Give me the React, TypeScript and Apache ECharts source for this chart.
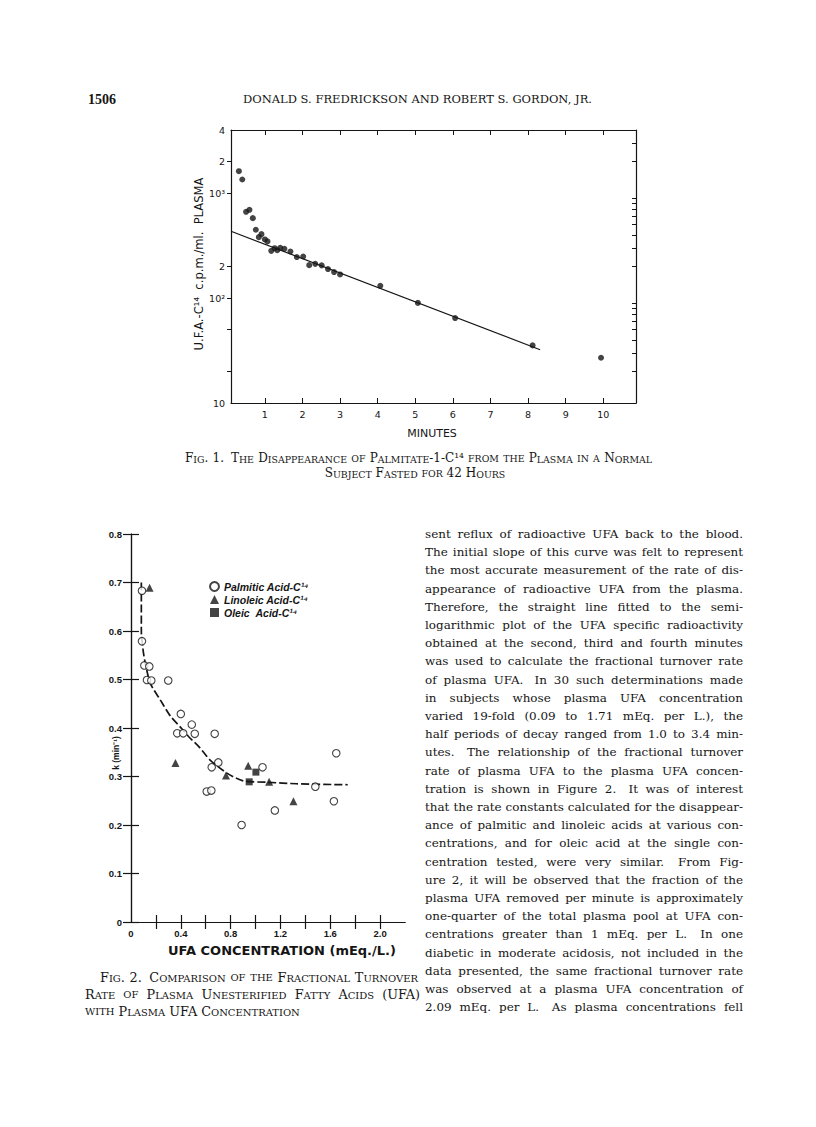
import React, { useEffect, useRef } from 'react';
import * as echarts from 'echarts';

const INK = '#151515';
const SERIF = 'Liberation Serif';
const SERIF2 = 'DejaVu Serif';
const SANS = 'DejaVu Sans';
const SANSB = 'Liberation Sans';

// ---------------- Fig. 1 data ----------------
const fig1Minutes = [0.31, 0.40, 0.50, 0.59, 0.68, 0.76, 0.84, 0.91, 1.00, 1.07, 1.17, 1.26, 1.33, 1.41, 1.52, 1.68, 1.85, 2.02, 2.18, 2.34, 2.51, 2.68, 2.84, 3.00, 4.07, 5.07, 6.06, 8.12, 9.94];
const fig1Cpm = [1620, 1350, 664, 694, 578, 448, 381, 407, 362, 347, 282, 299, 286, 301, 295, 278, 246, 249, 206, 212, 205, 189, 177, 168, 131, 90, 64.5, 35.4, 27];
const fig1FitMinutes = [0.1, 8.32];
const fig1FitCpm = [434, 32.2];
const fig1XTicks = [1, 2, 3, 4, 5, 6, 7, 8, 9, 10];
const fig1YLabelValues = [10, 100, 200, 1000, 2000, 4000];
const fig1YLabelTexts = ['10', '10²', '2', '10³', '2', '4'];
const fig1LeftTicks = [20, 50, 100, 200, 1000, 2000];
const fig1RightTicks = [20, 30, 40, 50, 60, 70, 80, 90, 200, 300, 400, 500, 600, 700, 800, 900, 2000, 3000];

// ---------------- Fig. 2 data ----------------
const palmiticConc = [0.088, 0.088, 0.107, 0.147, 0.128, 0.163, 0.299, 0.40, 0.371, 0.419, 0.488, 0.512, 0.672, 0.648, 0.701, 0.608, 0.645, 0.888, 1.056, 1.155, 1.48, 1.629, 1.648];
const palmiticK = [0.683, 0.579, 0.529, 0.527, 0.499, 0.498, 0.498, 0.429, 0.389, 0.389, 0.407, 0.388, 0.388, 0.319, 0.329, 0.269, 0.271, 0.200, 0.319, 0.230, 0.279, 0.249, 0.348];
const linoleicConc = [0.149, 0.357, 0.763, 0.941, 1.109, 1.304];
const linoleicK = [0.689, 0.328, 0.302, 0.322, 0.289, 0.249];
const oleicConc = [0.949, 1.003];
const oleicK = [0.289, 0.309];
const curveConc = [0.083, 0.083, 0.10, 0.12, 0.155, 0.235, 0.315, 0.41, 0.46, 0.55, 0.635, 0.77, 0.90, 1.1, 1.33, 1.74];
const curveK = [0.70, 0.60, 0.555, 0.527, 0.492, 0.458, 0.425, 0.398, 0.383, 0.36, 0.334, 0.307, 0.291, 0.288, 0.285, 0.283];
const fig2XTicks = [0.2, 0.4, 0.6, 0.8, 1.0, 1.2, 1.4, 1.6, 1.8, 2.0];
const fig2XLabels = [0, 0.4, 0.8, 1.2, 1.6, 2.0];
const legendNames = ['Palmitic Acid-C¹⁴', 'Linoleic Acid-C¹⁴', 'Oleic\u00a0\u00a0Acid-C¹⁴'];

// ---------------- Page text ----------------
const headerPage = '1506';
const headerAuthors = 'DONALD S. FREDRICKSON AND ROBERT S. GORDON, JR.';
const fig1Caption = [
  'Fig. 1.  The Disappearance of Palmitate-1-C¹⁴ from the Plasma in a Normal',
  'Subject Fasted for 42 Hours',
];
const fig2Caption = [
  'Fig. 2.  Comparison of the Fractional Turnover',
  'Rate of Plasma Unesterified Fatty Acids (UFA)',
  'with Plasma UFA Concentration',
];
const fig1YTitle = 'U.F.A.-C¹⁴\u00a0\u00a0c.p.m./ml.\u00a0\u00a0PLASMA';
const fig1XTitle = 'MINUTES';
const fig2YTitle = 'k (min⁻¹)';
const fig2XTitle = 'UFA CONCENTRATION (mEq./L.)';
const bodyLines = [
  'sent reflux of radioactive UFA back to the blood.',
  'The initial slope of this curve was felt to represent',
  'the most accurate measurement of the rate of dis-',
  'appearance of radioactive UFA from the plasma.',
  'Therefore, the straight line fitted to the semi-',
  'logarithmic plot of the UFA specific radioactivity',
  'obtained at the second, third and fourth minutes',
  'was used to calculate the fractional turnover rate',
  'of plasma UFA.  In 30 such determinations made',
  'in subjects whose plasma UFA concentration',
  'varied 19-fold (0.09 to 1.71 mEq. per L.), the',
  'half periods of decay ranged from 1.0 to 3.4 min-',
  'utes.  The relationship of the fractional turnover',
  'rate of plasma UFA to the plasma UFA concen-',
  'tration is shown in Figure 2.  It was of interest',
  'that the rate constants calculated for the disappear-',
  'ance of palmitic and linoleic acids at various con-',
  'centrations, and for oleic acid at the single con-',
  'centration tested, were very similar.  From Fig-',
  'ure 2, it will be observed that the fraction of the',
  'plasma UFA removed per minute is approximately',
  'one-quarter of the total plasma pool at UFA con-',
  'centrations greater than 1 mEq. per L.  In one',
  'diabetic in moderate acidosis, not included in the',
  'data presented, the same fractional turnover rate',
  'was observed at a plasma UFA concentration of',
  '2.09 mEq. per L.  As plasma concentrations fell',
];

// ---------------- text helpers ----------------
let _ctx: CanvasRenderingContext2D | null = null;
function tw(text: string, size: number, family: string, weight = 'normal', style = 'normal') {
  if (!_ctx) _ctx = document.createElement('canvas').getContext('2d');
  _ctx!.font = `${style} ${weight} ${size}px "${family}"`;
  return _ctx!.measureText(text).width;
}
type Word = { style: any; width: number };
type Maker = (w: string, size: number) => Word;
function plain(t: string, size: number, family: string, weight = 'normal', fstyle = 'normal'): Word {
  return {
    style: { text: t, fontSize: size, fontFamily: family, fontWeight: weight, fontStyle: fstyle, fill: INK },
    width: tw(t, size, family, weight, fstyle),
  };
}
const SC_RATIO = 0.78;
function smallCaps(t: string, big: number, family: string): Word {
  const small = big * SC_RATIO;
  const runs = t.match(/[a-z]+|[^a-z]+/g) || [];
  let width = 0;
  let text = '';
  for (const r of runs) {
    const low = r[0] >= 'a' && r[0] <= 'z';
    const s = low ? r.toUpperCase() : r;
    width += tw(s, low ? small : big, family);
    text += `{${low ? 's' : 'b'}|${s}}`;
  }
  return {
    style: {
      text,
      fill: INK,
      rich: {
        b: { fontSize: big, fontFamily: family, fill: INK, verticalAlign: 'bottom' },
        s: { fontSize: small, fontFamily: family, fill: INK, verticalAlign: 'bottom' },
      },
    },
    width,
  };
}
function tokens(line: string) {
  const parts = line.split(/( +)/).filter((p) => p !== '');
  const words: string[] = [];
  const weights: number[] = [];
  for (const p of parts) {
    if (p.trim() === '') {
      if (words.length) weights.push(p.length > 1 ? 1.6 : 1);
    } else {
      if (words.length > weights.length) weights.push(1);
      words.push(p);
    }
  }
  return { words, weights };
}
function natural(line: string, mk: Maker, size: number, spaceW: number) {
  const { words, weights } = tokens(line);
  return words.reduce((a, w) => a + mk(w, size).width, 0) + weights.reduce((a, b) => a + b, 0) * spaceW;
}

function buildGraphic() {
  const g: any[] = [];
  const put = (x: number, y: number, style: any, extra: any = {}) =>
    g.push({
      type: 'text',
      x,
      y,
      silent: true,
      style: { align: 'left', textAlign: 'left', verticalAlign: 'middle', textVerticalAlign: 'middle', ...style },
      ...extra,
    });
  const layLine = (line: string, mk: Maker, size: number, spaceW: number, x0: number, y: number, mode: string, x1 = 0) => {
    const { words, weights } = tokens(line);
    const ws = words.map((w) => mk(w, size));
    const total = ws.reduce((a, w) => a + w.width, 0);
    const wsum = weights.reduce((a, b) => a + b, 0);
    let gap = spaceW;
    if (mode === 'justify' && wsum > 0) gap = Math.max(spaceW * 0.5, (x1 - x0 - total) / wsum);
    const lineW = total + gap * wsum;
    let x = mode === 'center' ? x0 - lineW / 2 : x0;
    ws.forEach((w, i) => {
      put(x, y, w.style);
      x += w.width + (weights[i] || 0) * gap;
    });
  };

  // header
  put(88, 99, plain(headerPage, 14, SERIF, 'bold').style);
  const hMk: Maker = (w, s) => plain(w, s, SERIF2);
  const hNat = natural(headerAuthors, hMk, 10, tw(' ', 10, SERIF2));
  const hSize = Math.min(11.5, (10 * 349) / hNat);
  layLine(headerAuthors, hMk, hSize, tw(' ', hSize, SERIF2), 243, 99, 'justify', 592);

  // captions (small caps)
  const scMk: Maker = (w, s) => smallCaps(w, s, SERIF2);
  const sp = (s: number) => tw(' ', s, SERIF2);
  const c1 = (10 * 462) / natural(fig1Caption[0], scMk, 10, sp(10));
  layLine(fig1Caption[0], scMk, c1, sp(c1), 185, 458, 'justify', 652);
  layLine(fig1Caption[1], scMk, c1, sp(c1), 415, 473, 'center');
  const c2 = Math.min(
    (10 * 314) / natural(fig2Caption[0], scMk, 10, sp(10)),
    (10 * 331) / natural(fig2Caption[1], scMk, 10, sp(10)),
  );
  layLine(fig2Caption[0], scMk, c2, sp(c2), 100, 977, 'justify', 418);
  layLine(fig2Caption[1], scMk, c2, sp(c2), 85, 994, 'justify', 420);
  layLine(fig2Caption[2], scMk, c2, sp(c2), 85, 1011, 'left');

  // body text column
  const bMk: Maker = (w, s) => plain(w, s, SERIF2);
  const bNat = Math.max(...bodyLines.map((l) => natural(l, bMk, 10, sp(10))));
  const bodySize = Math.max(10, Math.min(13, (10 * 317) / bNat));
  bodyLines.forEach((line, i) => {
    layLine(line, bMk, bodySize, sp(bodySize), 425, 534 + i * 18.2, 'justify', 743);
  });

  // axis titles
  const y1Size = Math.max(9, Math.min(12, (10 * 173) / tw(fig1YTitle, 10, SANS)));
  put(199, 264, { ...plain(fig1YTitle, y1Size, SANS).style, align: 'center', textAlign: 'center' }, { rotation: Math.PI / 2 });
  put(432, 433, { ...plain(fig1XTitle, 11, SANS).style, align: 'center', textAlign: 'center' });
  put(116, 753, { ...plain(fig2YTitle, 8.5, SANSB, 'bold').style, align: 'center', textAlign: 'center' }, { rotation: Math.PI / 2 });
  const x2Size = Math.max(9, Math.min(13, (11 * 241) / tw(fig2XTitle, 11, SANS, 'bold')));
  put(282, 950, { ...plain(fig2XTitle, x2Size, SANS, 'bold').style, align: 'center', textAlign: 'center' });
  return g;
}

function nearestLabel(v: number) {
  let best = -1;
  let bd = 1e9;
  fig1YLabelValues.forEach((lv, i) => {
    const d = Math.abs(Math.log10(v) - Math.log10(lv));
    if (d < bd) {
      bd = d;
      best = i;
    }
  });
  return bd < 0.02 ? fig1YLabelTexts[best] : '';
}

function buildOption() {
  const line = { lineStyle: { color: INK, width: 1.2 } };
  const noSplit = { show: false };
  const lab1 = { color: INK, fontFamily: SANS, fontSize: 9.5 };
  const lab2 = { color: INK, fontFamily: SANSB, fontWeight: 'bold', fontSize: 9.5 };
  const fmt2 = (v: number) => (Math.abs(v) < 1e-9 ? '0' : v.toFixed(1));
  return {
    animation: false,
    backgroundColor: '#ffffff',
    grid: [
      { left: 231, top: 130, width: 405, height: 273 },
      { left: 131, top: 534, width: 274, height: 388 },
    ],
    xAxis: [
      {
        gridIndex: 0, type: 'value', min: 0.1, max: 10.87, position: 'bottom',
        axisLine: line, splitLine: noSplit,
        axisTick: { inside: true, length: 5, customValues: fig1XTicks, lineStyle: { color: INK } },
        axisLabel: { ...lab1, margin: 6, customValues: fig1XTicks },
      },
      {
        gridIndex: 0, type: 'value', min: 0.1, max: 10.87, position: 'top',
        axisLine: line, splitLine: noSplit,
        axisTick: { inside: true, length: 5, customValues: fig1XTicks, lineStyle: { color: INK } },
        axisLabel: { show: false },
      },
      {
        gridIndex: 1, type: 'value', min: 0, max: 2.2, position: 'bottom',
        axisLine: line, splitLine: noSplit,
        axisTick: { inside: true, length: 7, customValues: fig2XTicks, lineStyle: { color: INK, width: 1.2 } },
        axisLabel: { ...lab2, margin: 6, customValues: fig2XLabels, formatter: fmt2 },
      },
      {
        gridIndex: 1, type: 'value', min: 0, max: 2.2, position: 'top',
        axisLine: line, splitLine: noSplit,
        axisTick: { inside: true, length: 7, customValues: fig2XTicks, lineStyle: { color: INK, width: 1.2 } },
        axisLabel: { show: false },
      },
    ],
    yAxis: [
      {
        gridIndex: 0, type: 'log', logBase: 10, min: 10, max: 4000, position: 'left',
        axisLine: line, splitLine: noSplit, minorTick: { show: false },
        axisTick: { inside: false, length: 4, customValues: fig1LeftTicks, lineStyle: { color: INK } },
        axisLabel: { ...lab1, margin: 6, customValues: fig1YLabelValues, formatter: (v: number) => nearestLabel(v) },
      },
      {
        gridIndex: 0, type: 'log', logBase: 10, min: 10, max: 4000, position: 'right',
        axisLine: line, splitLine: noSplit, minorTick: { show: false },
        axisTick: { inside: true, length: 4, customValues: fig1RightTicks, lineStyle: { color: INK } },
        axisLabel: { show: false },
      },
      {
        gridIndex: 1, type: 'value', min: 0, max: 0.8, interval: 0.1, position: 'left',
        axisLine: line, splitLine: noSplit,
        axisTick: { inside: true, length: 8, lineStyle: { color: INK, width: 1.2 } },
        axisLabel: { ...lab2, margin: 9, formatter: fmt2 },
      },
      {
        gridIndex: 1, type: 'value', min: 0, max: 0.8, interval: 0.1, position: 'right',
        axisLine: line, splitLine: noSplit,
        axisTick: { inside: true, length: 8, lineStyle: { color: INK, width: 1.2 } },
        axisLabel: { show: false },
      },
    ],
    legend: {
      data: legendNames,
      orient: 'vertical',
      left: 209,
      top: 581,
      itemWidth: 9,
      itemHeight: 9,
      itemGap: 2,
      padding: 0,
      selectedMode: false,
      textStyle: { color: INK, fontFamily: SANSB, fontWeight: 'bold', fontStyle: 'italic', fontSize: 10.5 },
    },
    series: [
      {
        type: 'scatter', name: 'fig1-points', xAxisIndex: 0, yAxisIndex: 0,
        data: fig1Minutes.map((m, i) => [m, fig1Cpm[i]]),
        symbol: 'circle', symbolSize: 6, itemStyle: { color: INK }, silent: true,
      },
      {
        type: 'line', name: 'fig1-fit', xAxisIndex: 0, yAxisIndex: 0,
        data: fig1FitMinutes.map((m, i) => [m, fig1FitCpm[i]]),
        symbol: 'none', lineStyle: { color: INK, width: 1.2 }, silent: true,
      },
      {
        type: 'line', name: 'fig2-curve', xAxisIndex: 2, yAxisIndex: 2,
        data: curveConc.map((c, i) => [c, curveK[i]]),
        symbol: 'none', smooth: 0.25, lineStyle: { color: INK, width: 1.7, type: [8, 3] }, z: 1, silent: true,
      },
      {
        type: 'scatter', name: legendNames[0], xAxisIndex: 2, yAxisIndex: 2,
        data: palmiticConc.map((c, i) => [c, palmiticK[i]]),
        symbol: 'circle', symbolSize: 7.5, itemStyle: { color: '#ffffff', borderColor: INK, borderWidth: 1.1 }, z: 3, silent: true,
      },
      {
        type: 'scatter', name: legendNames[1], xAxisIndex: 2, yAxisIndex: 2,
        data: linoleicConc.map((c, i) => [c, linoleicK[i]]),
        symbol: 'triangle', symbolSize: 8, itemStyle: { color: INK }, z: 3, silent: true,
      },
      {
        type: 'scatter', name: legendNames[2], xAxisIndex: 2, yAxisIndex: 2,
        data: oleicConc.map((c, i) => [c, oleicK[i]]),
        symbol: 'rect', symbolSize: 7, itemStyle: { color: INK }, z: 3, silent: true,
      },
    ],
    graphic: buildGraphic(),
  };
}

export default function App() {
  const ref = useRef<HTMLDivElement>(null);
  useEffect(() => {
    const chart = echarts.init(ref.current!, null, { renderer: 'svg' });
    chart.setOption(buildOption() as any);
    return () => chart.dispose();
  }, []);
  return (
    <div
      ref={ref}
      style={{ position: 'absolute', left: 0, top: 0, width: 816, height: 1127, background: '#ffffff' }}
    />
  );
}
